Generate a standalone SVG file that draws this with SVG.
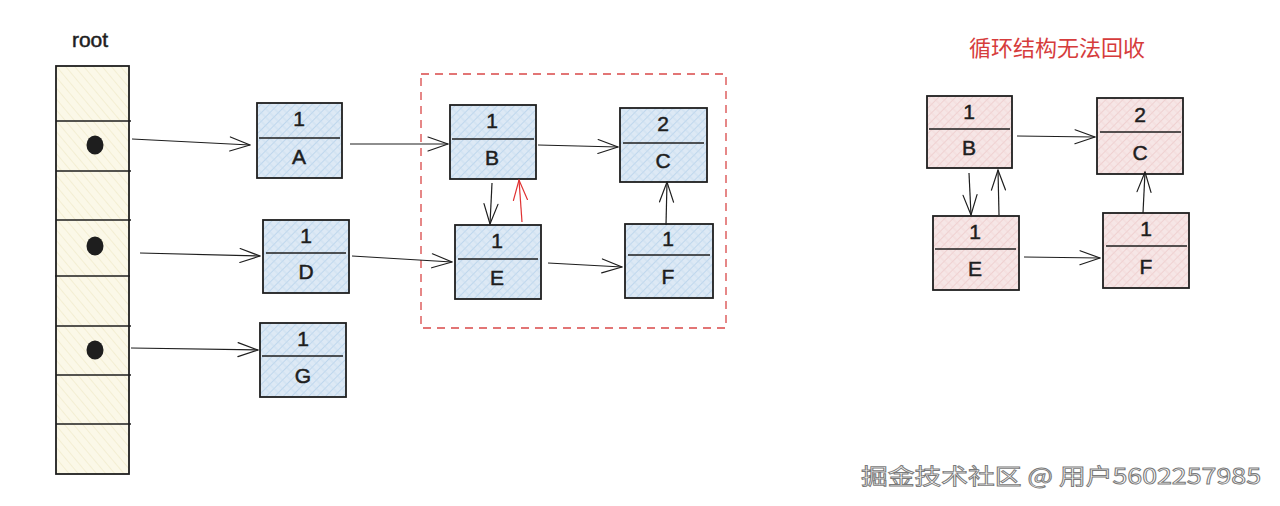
<svg xmlns="http://www.w3.org/2000/svg" width="1280" height="506" viewBox="0 0 1280 506">
<defs>
<pattern id="hb" width="6" height="6" patternUnits="userSpaceOnUse" patternTransform="rotate(45)">
<rect width="6" height="6" fill="#dde9f5"/>
<line x1="0" y1="0" x2="0" y2="6" stroke="#b3d0ea" stroke-width="1.4"/>
<line x1="0" y1="3" x2="6" y2="3" stroke="#c6dcef" stroke-width="0.8"/>
</pattern>
<pattern id="hp" width="6" height="6" patternUnits="userSpaceOnUse" patternTransform="rotate(45)">
<rect width="6" height="6" fill="#f6e6e6"/>
<line x1="0" y1="0" x2="0" y2="6" stroke="#edc9c9" stroke-width="1.4"/>
<line x1="0" y1="3" x2="6" y2="3" stroke="#f1d5d5" stroke-width="0.8"/>
</pattern>
<pattern id="hy" width="7" height="7" patternUnits="userSpaceOnUse" patternTransform="rotate(-40)">
<rect width="7" height="7" fill="#fbf8e8"/>
<line x1="0" y1="0" x2="0" y2="7" stroke="#efe8c6" stroke-width="1.2"/>
</pattern>
<marker id="ah" viewBox="0 0 22 16" refX="21" refY="8" markerWidth="22" markerHeight="16" markerUnits="userSpaceOnUse" orient="auto">
<path d="M1,1 L21,8 L1,15" fill="none" stroke="#1e1e1e" stroke-width="1.2" stroke-linecap="round"/>
</marker>
<marker id="ahr" viewBox="0 0 22 16" refX="21" refY="8" markerWidth="22" markerHeight="16" markerUnits="userSpaceOnUse" orient="auto">
<path d="M1,1 L21,8 L1,15" fill="none" stroke="#e03131" stroke-width="1.2" stroke-linecap="round"/>
</marker>
</defs>
<style>
.box{stroke:#1e1e1e;stroke-width:1.8}
.blue{fill:url(#hb)}
.pink{fill:url(#hp)}
.div{stroke:#1e1e1e;stroke-width:1.4}
.t{font-family:"Liberation Sans","DejaVu Sans",sans-serif;font-size:21px;fill:#1e1e1e;stroke:#1e1e1e;stroke-width:0.5;text-anchor:middle}
.c{fill:none;stroke:#1e1e1e;stroke-width:1.2;marker-end:url(#ah)}
.cr{fill:none;stroke:#e03131;stroke-width:1.2;marker-end:url(#ahr)}
</style>
<rect width="1280" height="506" fill="#ffffff"/>

<g id="root">
<text x="90" y="47" class="t">root</text>
<rect x="56" y="66" width="73" height="408" fill="url(#hy)" class="box"/>
<line x1="56" y1="121" x2="131" y2="121" class="div"/>
<line x1="56" y1="171" x2="131" y2="171" class="div"/>
<line x1="56" y1="220" x2="131" y2="220" class="div"/>
<line x1="55" y1="276" x2="130" y2="276" class="div"/>
<line x1="56" y1="326" x2="131" y2="326" class="div"/>
<line x1="56" y1="375" x2="131" y2="375" class="div"/>
<line x1="56" y1="424" x2="131" y2="424" class="div"/>
<ellipse cx="95" cy="145" rx="8.5" ry="9.5" fill="#1e1e1e"/>
<ellipse cx="95" cy="246" rx="8.5" ry="9.5" fill="#1e1e1e"/>
<ellipse cx="95" cy="350" rx="8.5" ry="9.5" fill="#1e1e1e"/>
</g>

<g id="group-box">
<rect x="421" y="74" width="305" height="254" fill="none" stroke="#d94848" stroke-width="1.3" stroke-dasharray="8 6"/>
</g>

<g id="node-A">
<rect x="257" y="103" width="85" height="75" class="box blue"/>
<line x1="259" y1="138" x2="340" y2="138" class="div"/>
<text x="299" y="126" class="t">1</text>
<text x="299" y="164" class="t">A</text>
</g>
<g id="node-D">
<rect x="263" y="220" width="86" height="73" class="box blue"/>
<line x1="266" y1="253" x2="346" y2="253" class="div"/>
<text x="306" y="243" class="t">1</text>
<text x="306" y="279" class="t">D</text>
</g>
<g id="node-G">
<rect x="260" y="323" width="86" height="74" class="box blue"/>
<line x1="262" y1="356" x2="343" y2="356" class="div"/>
<text x="303" y="346" class="t">1</text>
<text x="303" y="383" class="t">G</text>
</g>
<g id="node-B">
<rect x="450" y="105" width="86" height="74" class="box blue"/>
<line x1="452" y1="139" x2="534" y2="139" class="div"/>
<text x="492" y="128" class="t">1</text>
<text x="492" y="165" class="t">B</text>
</g>
<g id="node-C">
<rect x="620" y="108" width="87" height="74" class="box blue"/>
<line x1="623" y1="143" x2="704" y2="143" class="div"/>
<text x="663" y="131" class="t">2</text>
<text x="663" y="168" class="t">C</text>
</g>
<g id="node-E">
<rect x="455" y="225" width="86" height="74" class="box blue"/>
<line x1="458" y1="259" x2="538" y2="259" class="div"/>
<text x="497" y="248" class="t">1</text>
<text x="497" y="285" class="t">E</text>
</g>
<g id="node-F">
<rect x="625" y="224" width="88" height="74" class="box blue"/>
<line x1="628" y1="255" x2="710" y2="255" class="div"/>
<text x="668" y="246" class="t">1</text>
<text x="668" y="284" class="t">F</text>
</g>

<g id="title">
<text x="1057" y="56" font-family="'Noto Sans CJK SC',sans-serif" font-size="22" fill="#d63c3c" text-anchor="middle">循环结构无法回收</text>
</g>
<g id="node-B2">
<rect x="927" y="96" width="85" height="72" class="box pink"/>
<line x1="929" y1="129" x2="1010" y2="129" class="div"/>
<text x="969" y="119" class="t">1</text>
<text x="969" y="155" class="t">B</text>
</g>
<g id="node-C2">
<rect x="1097" y="98" width="86" height="76" class="box pink"/>
<line x1="1100" y1="132" x2="1181" y2="132" class="div"/>
<text x="1140" y="122" class="t">2</text>
<text x="1140" y="160" class="t">C</text>
</g>
<g id="node-E2">
<rect x="933" y="216" width="86" height="74" class="box pink"/>
<line x1="935" y1="249" x2="1016" y2="249" class="div"/>
<text x="975" y="239" class="t">1</text>
<text x="975" y="276" class="t">E</text>
</g>
<g id="node-F2">
<rect x="1103" y="213" width="86" height="75" class="box pink"/>
<line x1="1106" y1="246" x2="1187" y2="246" class="div"/>
<text x="1146" y="236" class="t">1</text>
<text x="1146" y="274" class="t">F</text>
</g>

<g id="connectors">
<path d="M132,139 L250,145" class="c"/>
<path d="M350,144 L448,144" class="c"/>
<path d="M140,253 L260,256" class="c"/>
<path d="M352,256 L452,262" class="c"/>
<path d="M131,348 L258,350" class="c"/>
<path d="M538,145 L618,147" class="c"/>
<path d="M492,183 L490,224" class="c"/>
<path d="M522,222 L519,180" class="cr"/>
<path d="M548,263 L622,267" class="c"/>
<path d="M666,225 L667,182" class="c"/>
<path d="M1017,136 L1095,137" class="c"/>
<path d="M969,173 L971,215" class="c"/>
<path d="M999,215 L998,170" class="c"/>
<path d="M1024,257 L1100,258" class="c"/>
<path d="M1143,213 L1145,172" class="c"/>
</g>

<g id="watermark">
<text x="861" y="484" textLength="400" lengthAdjust="spacingAndGlyphs" font-family="'Noto Sans CJK SC',sans-serif" font-size="22" fill="#ffffff" stroke="#7a7a7a" stroke-width="0.9">掘金技术社区 @ 用户5602257985</text>
</g>
</svg>
